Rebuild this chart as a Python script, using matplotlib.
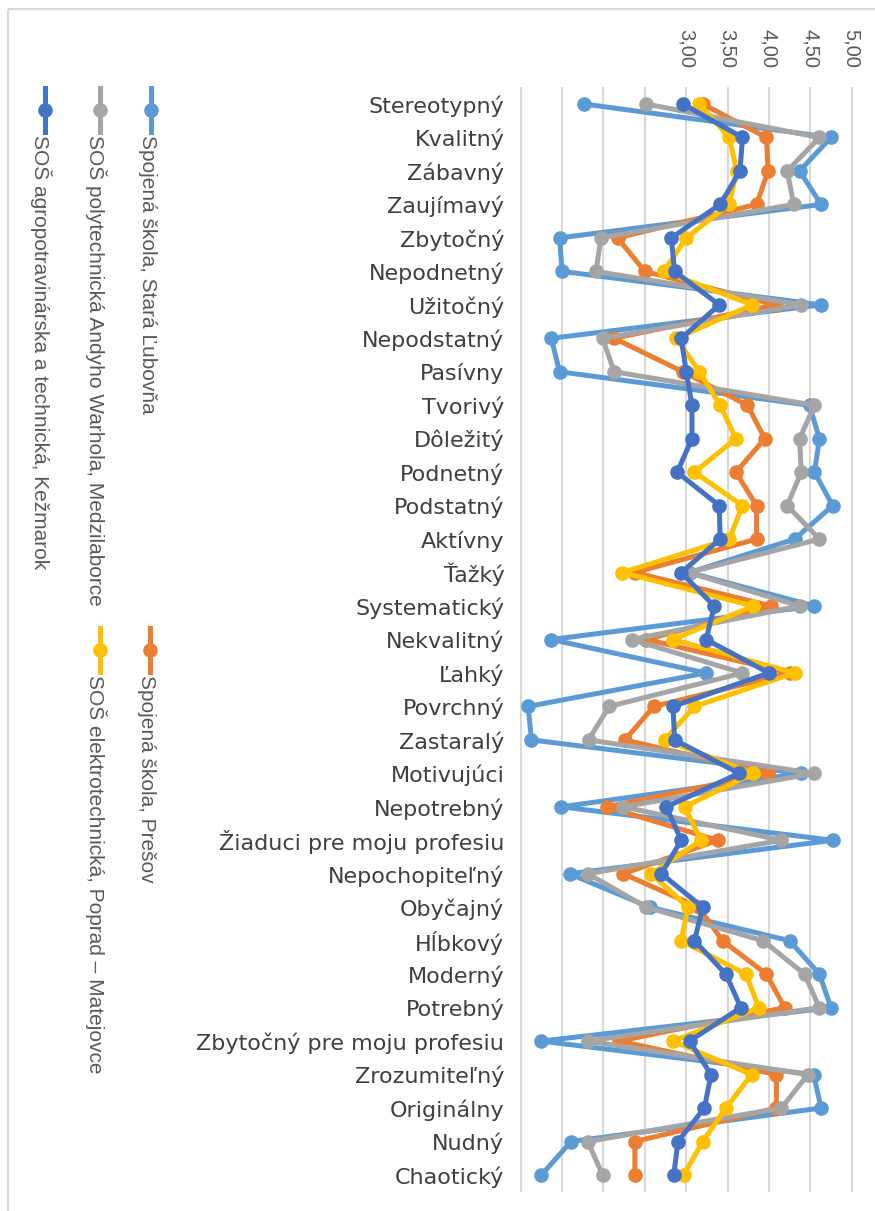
import matplotlib
matplotlib.use('Agg')
import matplotlib.pyplot as plt
import numpy as np
from matplotlib.patches import Rectangle
from matplotlib.lines import Line2D

# categories, top to bottom
categories = [
    'Stereotypný', 'Kvalitný', 'Zábavný', 'Zaujímavý', 'Zbytočný', 'Nepodnetný',
    'Užitočný', 'Nepodstatný', 'Pasívny', 'Tvorivý', 'Dôležitý', 'Podnetný',
    'Podstatný', 'Aktívny', 'Ťažký', 'Systematický', 'Nekvalitný', 'Ľahký',
    'Povrchný', 'Zastaralý', 'Motivujúci', 'Nepotrebný',
    'Žiaduci pre moju profesiu', 'Nepochopiteľný', 'Obyčajný', 'Hĺbkový',
    'Moderný', 'Potrebný', 'Zbytočný pre moju profesiu', 'Zrozumiteľný',
    'Originálny', 'Nudný', 'Chaotický',
]

stara_lubovna = [1.77, 4.75, 4.37, 4.63, 1.47, 1.50, 4.63, 1.37, 1.47, 4.49, 4.61,
                 4.55, 4.77, 4.31, 3.04, 4.55, 1.37, 3.24, 1.09, 1.13, 4.39, 1.49,
                 4.77, 1.59, 2.56, 4.25, 4.61, 4.75, 1.25, 4.54, 4.63, 1.61, 1.25]
presov = [3.20, 3.97, 3.99, 3.85, 2.17, 2.50, 4.08, 2.13, 2.96, 3.74, 3.95,
          3.60, 3.85, 3.85, 2.38, 4.03, 2.52, 4.25, 2.61, 2.26, 3.99, 2.04,
          3.38, 2.24, 3.15, 3.44, 3.97, 4.19, 2.19, 4.09, 4.09, 2.38, 2.38]
medzilaborce = [2.52, 4.61, 4.22, 4.30, 1.97, 1.91, 4.39, 1.99, 2.13, 4.55, 4.37,
                4.39, 4.22, 4.61, 3.03, 4.37, 2.34, 3.68, 2.07, 1.82, 4.55, 2.24,
                4.15, 1.81, 2.52, 3.93, 4.43, 4.61, 1.81, 4.47, 4.15, 1.81, 1.99]
poprad = [3.16, 3.52, 3.61, 3.52, 3.00, 2.73, 3.80, 2.88, 3.16, 3.41, 3.60,
          3.10, 3.68, 3.52, 2.23, 3.81, 2.84, 4.31, 3.10, 2.74, 3.81, 2.98,
          3.18, 2.58, 3.02, 2.94, 3.72, 3.88, 2.84, 3.79, 3.48, 3.20, 2.97]
kezmarok = [2.96, 3.68, 3.65, 3.41, 2.82, 2.86, 3.40, 2.94, 3.00, 3.07, 3.07,
            2.89, 3.40, 3.41, 2.94, 3.34, 3.24, 4.00, 2.84, 2.86, 3.64, 2.76,
            2.94, 2.70, 3.20, 3.10, 3.48, 3.66, 3.04, 3.30, 3.22, 2.90, 2.85]

value_ticks = [1.0, 1.5, 2.0, 2.5, 3.0, 3.5, 4.0, 4.5, 5.0]
value_labels = ['', '', '', '', '3,00', '3,50', '4,00', '4,50', '5,00']

series = [
    ('Spojená škola, Stará Ľubovňa', stara_lubovna, '#5B9BD5'),
    ('Spojená škola, Prešov', presov, '#ED7D31'),
    ('SOŠ polytechnická Andyho Warhola, Medzilaborce', medzilaborce, '#A5A5A5'),
    ('SOŠ elektrotechnická, Poprad – Matejovce', poprad, '#FFC000'),
    ('SOŠ agropotravinárska a technická, Kežmarok', kezmarok, '#4472C4'),
]

W, H = 875, 1211
fig = plt.figure(figsize=(W / 100, H / 100), dpi=100)
fig.patch.set_facecolor('white')

# background layer in pixel coordinates (border + legend)
bg = fig.add_axes([0, 0, 1, 1], zorder=0)
bg.set_xlim(0, W)
bg.set_ylim(H, 0)
bg.axis('off')
bg.add_patch(Rectangle((8, 9), W, H, fill=False, edgecolor='#D9D9D9', lw=1.5))

# plot area
left_px, right_px = 518.2, 854.2
top_px, bot_px = 87.3, 1191.7
ax = fig.add_axes([left_px / W, 1 - bot_px / H, (right_px - left_px) / W,
                   (bot_px - top_px) / H], zorder=1)
ax.patch.set_alpha(0)

pos = np.arange(len(categories))
for name, vals, col in series:
    ax.plot(vals, pos, color=col, lw=3.6, marker='o', ms=9.5,
            solid_joinstyle='round', clip_on=False)

narrow = ['Liberation Sans Narrow', 'Liberation Sans', 'DejaVu Sans']

ax.set_xlim(0.97, 5.03)
ax.set_ylim(len(categories) - 0.5, -0.5)
ax.set_xticks(value_ticks)
ax.set_xticklabels(value_labels, rotation=270, family=narrow,
                   fontsize=14.5, color='#595959')
ax.xaxis.set_ticks_position('top')
ax.tick_params(axis='x', length=0, pad=14, top=True, bottom=False,
               labeltop=True, labelbottom=False)
ax.set_yticks(pos)
ax.set_yticklabels(categories, fontsize=16, color='#3f3f3f',
                   family=['DejaVu Sans'])
ax.tick_params(axis='y', length=0, pad=10)
ax.grid(axis='x', color='#D9D9D9', lw=1.5)
ax.set_axisbelow(True)
for s in ax.spines.values():
    s.set_visible(False)

# legend drawn rotated, as in the reference
legend_pos = [(151, 88), (150, 628), (100, 88), (100, 628), (45, 88)]
for (name, vals, col), (lx, ly) in zip(series, legend_pos):
    bg.add_line(Line2D([lx, lx], [ly, ly + 44], color=col, lw=3.6))
    bg.plot([lx], [ly + 22], marker='o', ms=9.5, color=col)
    bg.text(lx - 4, ly + 47, name, rotation=270, ha='center', va='top',
            family=narrow, fontsize=15, color='#595959')

fig.savefig('out.png', dpi=100)
